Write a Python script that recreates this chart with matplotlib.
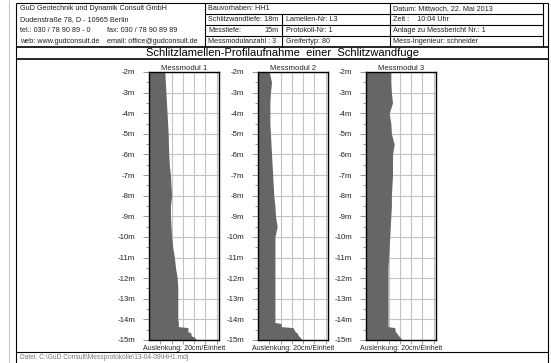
import matplotlib
matplotlib.use("Agg")
import matplotlib.pyplot as plt
import numpy as np

plt.rcParams['font.family'] = ['Liberation Sans', 'DejaVu Sans']

# depth stations (m) and lateral offset of the trench wall (units of 20 cm)
depth = [-2, -2.5, -3, -3.5, -4, -4.5, -5, -5.5, -6, -6.5, -7, -7.5, -8, -8.5,
         -9, -9.5, -10, -10.5, -11, -11.5, -12, -12.5, -13, -13.5, -14,
         -14.15, -14.2, -14.35, -14.4, -14.6, -14.65, -14.8, -14.85, -15]
modul1 = [1.4, 1.45, 1.5, 1.55, 1.6, 1.65, 1.7, 1.72, 1.75, 1.8, 1.9, 1.95, 2.0, 1.9,
          1.9, 1.95, 2.0, 2.1, 2.25, 2.35, 2.5, 2.55, 2.55, 2.55, 2.55,
          2.6, 2.6, 2.6, 3.45, 3.45, 3.7, 3.75, 4.0, 4.2]
modul2 = [1.0, 1.2, 1.1, 1.05, 1.05, 1.05, 1.1, 1.15, 1.2, 1.25, 1.3, 1.35, 1.4, 1.5,
          1.55, 1.7, 1.5, 1.5, 1.5, 1.5, 1.5, 1.5, 1.5, 1.5, 1.5,
          1.5, 2.05, 2.05, 3.1, 3.3, 3.45, 3.6, 3.7, 3.9]
modul3 = [2.2, 2.2, 2.25, 2.35, 2.05, 2.2, 2.25, 2.5, 2.35, 2.35, 2.35, 2.3, 2.25, 2.25,
          2.2, 2.15, 2.1, 2.05, 2.0, 1.95, 1.95, 1.95, 1.95, 1.95, 1.95,
          1.95, 1.95, 1.95, 2.55, 2.6, 2.7, 2.9, 3.0, 3.2]
profiles = [modul1, modul2, modul3]
modul_names = ["Messmodul 1", "Messmodul 2", "Messmodul 3"]
depth_ticks = list(range(-15, -1))

# header texts
company = ["GuD Geotechnik und Dynamik Consult GmbH",
           "Dudenstraße 78, D - 10965 Berlin",
           "tel.: 030 / 78 90 89 - 0",
           "web: www.gudconsult.de"]
company2 = ["", "", "fax: 030 / 78 90 89 89", "email: office@gudconsult.de"]
col_b = ["Bauvorhaben: HH1", "Schlitzwandtiefe: 18m", "Messtiefe:", "Messmodulanzahl : 3"]
col_b_right = ["", "", "15m", ""]
col_c = ["", "Lamellen-Nr: L3", "Protokoll-Nr: 1", "Greifertyp: 80"]
col_d = ["Datum: Mittwoch, 22. Mai 2013", "Zeit :    10:04 Uhr",
         "Anlage zu Messbericht Nr.: 1", "Mess-Ingenieur: schneider"]
title = "Schlitzlamellen-Profilaufnahme  einer  Schlitzwandfuge"
footer = r"Datei: C:\GuD Consult\Messprotokolle\13-04-09\HH1.mdj"

W, H = 551, 363
fig = plt.figure(figsize=(W / 100, H / 100), dpi=100)
fig.patch.set_facecolor("white")

# page layer in pixel coordinates
pg = fig.add_axes([0, 0, 1, 1])
pg.set_xlim(0, W)
pg.set_ylim(H, 0)
pg.axis("off")


def hline(y, x0, x1, lw=0.8, c="black"):
    pg.plot([x0, x1], [y, y], color=c, lw=lw, solid_capstyle="butt")


def vline(x, y0, y1, lw=0.8, c="black"):
    pg.plot([x, x], [y0, y1], color=c, lw=lw, solid_capstyle="butt")


L, R = 16, 548
rows = [3, 14, 25, 36, 47]
vline(9, 0, H, c="#c8c8c8")
vline(L, rows[0], H)
vline(R, rows[0], H)
hline(rows[0], L, R)
hline(rows[-1], L, R, lw=1.2)
for y in rows[1:-1]:
    hline(y, 205, 543)
vline(205, rows[0], rows[-1])
vline(282, rows[1], rows[-1])
vline(390, rows[0], rows[-1])
vline(543, rows[0], rows[-1])
hline(59, L, R, lw=1.2)
hline(352, L, R)

fs = 5.25
for i in range(4):
    yc = (rows[i] + rows[i + 1]) / 2 + 0.3
    pg.text(20, yc, company[i], fontsize=fs, va="center", color="#222")
    pg.text(107, yc, company2[i], fontsize=fs, va="center", color="#222")
    pg.text(208, yc, col_b[i], fontsize=fs, va="center", color="#222")
    pg.text(279, yc, col_b_right[i], fontsize=fs, va="center", ha="right", color="#222")
    pg.text(286, yc, col_c[i], fontsize=fs, va="center", color="#222")
    pg.text(393, yc, col_d[i], fontsize=fs, va="center", color="#222")

pg.text(282, 53.5, title, fontsize=8.0, ha="center", va="center", color="black")
pg.text(20, 357.5, footer, fontsize=4.8, va="center", color="#777")

# measurement module panels
lefts = [149, 258, 366]
ax_w, top, bottom = 70, 72, 340
for left, name, prof in zip(lefts, modul_names, profiles):
    ax = fig.add_axes([left / W, 1 - bottom / H, ax_w / W, (bottom - top) / H])
    ax.set_xlim(0, 6.2)
    ax.set_ylim(-15, -2)
    ax.fill_betweenx(depth, 0, prof, color="#666666", lw=0, zorder=3)
    ax.set_xticks(range(1, 7))
    ax.set_yticks(depth_ticks)
    ax.set_yticks(np.arange(-14.5, -2, 1.0), minor=True)
    ax.set_yticklabels([f"{d}m" for d in depth_ticks])
    ax.set_xticklabels([])
    ax.grid(True, color="#c4c4c4", lw=0.8, zorder=1)
    ax.tick_params(axis="y", which="major", length=4, width=0.6, pad=6,
                   labelsize=5.6, colors="#888", labelcolor="#222")
    ax.tick_params(axis="y", which="minor", length=2, width=0.6, colors="#888")
    ax.tick_params(axis="x", length=3, width=0.6, colors="#888")
    for sp in ax.spines.values():
        sp.set_linewidth(1.0)
        sp.set_zorder(5)
    ax.set_title(name, fontsize=5.6, pad=1.5, color="#222")
    ax.text(0.5, -0.018, "Auslenkung: 20cm/Einheit", transform=ax.transAxes,
            ha="center", va="top", fontsize=5.0, color="#222")

fig.savefig("out.png", dpi=100)
